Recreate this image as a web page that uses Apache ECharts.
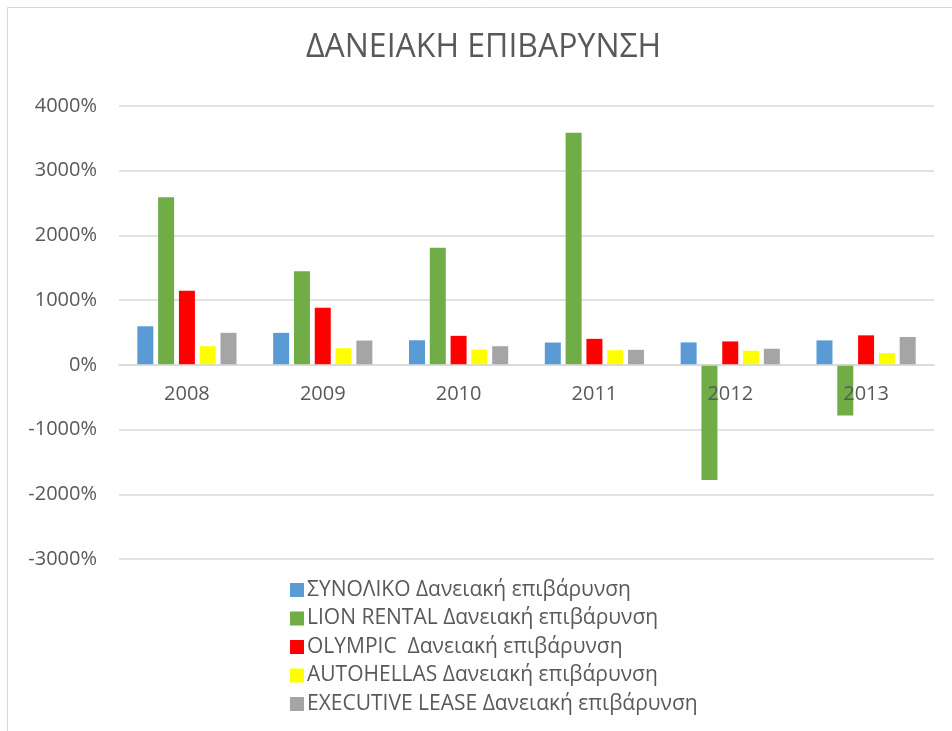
<!DOCTYPE html>
<html>
<head>
<meta charset="utf-8">
<script src="https://cdn.jsdelivr.net/npm/echarts@6/dist/echarts.min.js"></script>
<style>
  html, body { margin: 0; padding: 0; background: #fff; }
  #main { width: 952px; height: 731px; }
</style>
</head>
<body>
<div id="main"></div>
<script>
// categories and values (%)
var years = ['2008', '2009', '2010', '2011', '2012', '2013'];
var synoliko = [596, 495, 380, 345, 347, 378];
var lionRental = [2590, 1447, 1808, 3586, -1778, -782];
var olympic = [1144, 881, 448, 402, 362, 456];
var autohellas = [288, 257, 236, 226, 218, 182];
var executiveLease = [495, 376, 288, 232, 249, 431];
var yTicks = { min: -3000, max: 4000, step: 1000 };

var seriesNames = [
  'ΣΥΝΟΛΙΚΟ Δανειακή επιβάρυνση',
  'LION RENTAL Δανειακή επιβάρυνση',
  'OLYMPIC  Δανειακή επιβάρυνση',
  'AUTOHELLAS Δανειακή επιβάρυνση',
  'EXECUTIVE LEASE Δανειακή επιβάρυνση'
];
var seriesData = [synoliko, lionRental, olympic, autohellas, executiveLease];
var colors = ['#5B9BD5', '#70AD47', '#FF0000', '#FFFF00', '#A5A5A5'];

var font = '"Open Sans", "Noto Sans", sans-serif';
var txt = '#595959';

var chart = echarts.init(document.getElementById('main'));

var series = seriesData.map(function (d, i) {
  return {
    name: seriesNames[i],
    type: 'bar',
    data: d,
    barWidth: 16,
    barGap: '30%',
    itemStyle: { color: colors[i] }
  };
});

// zero line sits this many px above the grid bottom
var gridBottom = 172, gridTop = 106;
var zeroOffset = (731 - gridTop - gridBottom) * (0 - yTicks.min) / (yTicks.max - yTicks.min);

var option = {
  animation: false,
  color: colors,
  graphic: [{
    type: 'rect',
    shape: { x: 7.5, y: 7.5, width: 1000, height: 1000 },
    style: { fill: 'none', stroke: '#d9d9d9', lineWidth: 1 },
    silent: true
  }],
  title: {
    text: 'ΔΑΝΕΙΑΚΗ ΕΠΙΒΑΡΥΝΣΗ',
    left: 306,
    top: 32,
    padding: 0,
    textStyle: {
      fontFamily: font,
      fontSize: 32,
      fontWeight: 'normal',
      color: txt
    }
  },
  legend: {
    orient: 'vertical',
    left: 285,
    top: 574,
    itemWidth: 14,
    itemHeight: 14,
    itemGap: 6.5,
    icon: 'rect',
    selectedMode: false,
    textStyle: { fontFamily: font, fontSize: 21, color: txt, lineHeight: 22, padding: [0, 0, 0, -2] },
    data: seriesNames
  },
  grid: { left: 119, right: 18, top: gridTop, bottom: gridBottom },
  xAxis: {
    type: 'category',
    data: years,
    offset: -zeroOffset,
    z: 5,
    axisLine: { onZero: false, lineStyle: { color: '#d9d9d9', width: 1.5 } },
    axisTick: { show: false },
    axisLabel: { fontFamily: font, fontSize: 20, color: txt, margin: 19 }
  },
  yAxis: {
    type: 'value',
    min: yTicks.min,
    max: yTicks.max,
    interval: yTicks.step,
    axisLine: { show: false },
    axisTick: { show: false },
    splitLine: { lineStyle: { color: '#d9d9d9', width: 1.5 } },
    axisLabel: {
      fontFamily: font, fontSize: 20, color: txt, margin: 22,
      formatter: function (v) { return v + '%'; }
    }
  },
  series: series
};

chart.setOption(option);
</script>
</body>
</html>
